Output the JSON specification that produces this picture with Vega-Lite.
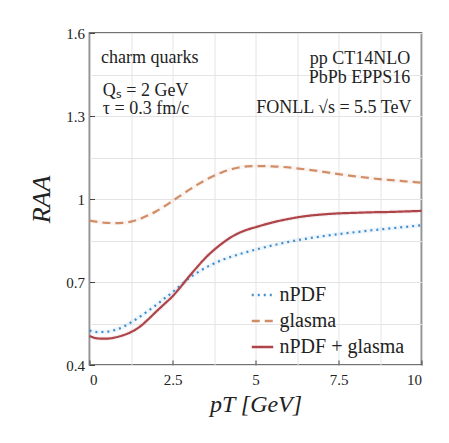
{
  "$schema": "https://vega.github.io/schema/vega-lite/v6.json",
  "width": 332,
  "height": 332,
  "autosize": "none",
  "padding": {"left": 89.5, "top": 33, "right": 27.5, "bottom": 78},
  "background": "white",
  "config": {
    "font": "Liberation Serif",
    "view": {"stroke": "#444444", "strokeWidth": 1.6},
    "axis": {"labelFont": "Liberation Serif", "titleFont": "Liberation Serif", "labelColor": "#222", "titleColor": "#222", "domain": false, "gridColor": "#e4e4e4", "gridWidth": 1, "tickColor": "#444"},
    "legend": {"labelFont": "Liberation Serif"},
    "text": {"font": "Liberation Serif"}
  },
  "datasets": {
    "curves": [
      {"pt": 0, "raa": 0.524, "series": "nPDF"},
      {"pt": 0.25, "raa": 0.519, "series": "nPDF"},
      {"pt": 0.5, "raa": 0.52, "series": "nPDF"},
      {"pt": 0.75, "raa": 0.526, "series": "nPDF"},
      {"pt": 1.0, "raa": 0.537, "series": "nPDF"},
      {"pt": 1.25, "raa": 0.554, "series": "nPDF"},
      {"pt": 1.5, "raa": 0.573, "series": "nPDF"},
      {"pt": 1.75, "raa": 0.594, "series": "nPDF"},
      {"pt": 2.0, "raa": 0.616, "series": "nPDF"},
      {"pt": 2.25, "raa": 0.64, "series": "nPDF"},
      {"pt": 2.5, "raa": 0.663, "series": "nPDF"},
      {"pt": 2.75, "raa": 0.689, "series": "nPDF"},
      {"pt": 3.0, "raa": 0.714, "series": "nPDF"},
      {"pt": 3.25, "raa": 0.734, "series": "nPDF"},
      {"pt": 3.5, "raa": 0.752, "series": "nPDF"},
      {"pt": 3.75, "raa": 0.767, "series": "nPDF"},
      {"pt": 4.0, "raa": 0.78, "series": "nPDF"},
      {"pt": 4.5, "raa": 0.8, "series": "nPDF"},
      {"pt": 5.0, "raa": 0.817, "series": "nPDF"},
      {"pt": 5.5, "raa": 0.832, "series": "nPDF"},
      {"pt": 6.0, "raa": 0.845, "series": "nPDF"},
      {"pt": 6.5, "raa": 0.856, "series": "nPDF"},
      {"pt": 7.0, "raa": 0.865, "series": "nPDF"},
      {"pt": 7.5, "raa": 0.873, "series": "nPDF"},
      {"pt": 8.0, "raa": 0.88, "series": "nPDF"},
      {"pt": 8.5, "raa": 0.887, "series": "nPDF"},
      {"pt": 9.0, "raa": 0.893, "series": "nPDF"},
      {"pt": 9.5, "raa": 0.899, "series": "nPDF"},
      {"pt": 10.0, "raa": 0.905, "series": "nPDF"},
      {"pt": 0, "raa": 0.922, "series": "glasma"},
      {"pt": 0.25, "raa": 0.917, "series": "glasma"},
      {"pt": 0.5, "raa": 0.914, "series": "glasma"},
      {"pt": 0.75, "raa": 0.913, "series": "glasma"},
      {"pt": 1.0, "raa": 0.914, "series": "glasma"},
      {"pt": 1.25, "raa": 0.918, "series": "glasma"},
      {"pt": 1.5, "raa": 0.927, "series": "glasma"},
      {"pt": 1.75, "raa": 0.94, "series": "glasma"},
      {"pt": 2.0, "raa": 0.955, "series": "glasma"},
      {"pt": 2.25, "raa": 0.973, "series": "glasma"},
      {"pt": 2.5, "raa": 0.993, "series": "glasma"},
      {"pt": 2.75, "raa": 1.013, "series": "glasma"},
      {"pt": 3.0, "raa": 1.033, "series": "glasma"},
      {"pt": 3.25, "raa": 1.052, "series": "glasma"},
      {"pt": 3.5, "raa": 1.069, "series": "glasma"},
      {"pt": 3.75, "raa": 1.084, "series": "glasma"},
      {"pt": 4.0, "raa": 1.097, "series": "glasma"},
      {"pt": 4.25, "raa": 1.107, "series": "glasma"},
      {"pt": 4.5, "raa": 1.114, "series": "glasma"},
      {"pt": 4.75, "raa": 1.118, "series": "glasma"},
      {"pt": 5.0, "raa": 1.119, "series": "glasma"},
      {"pt": 5.5, "raa": 1.118, "series": "glasma"},
      {"pt": 6.0, "raa": 1.114, "series": "glasma"},
      {"pt": 6.5, "raa": 1.107, "series": "glasma"},
      {"pt": 7.0, "raa": 1.099, "series": "glasma"},
      {"pt": 7.5, "raa": 1.09, "series": "glasma"},
      {"pt": 8.0, "raa": 1.082, "series": "glasma"},
      {"pt": 8.5, "raa": 1.075, "series": "glasma"},
      {"pt": 9.0, "raa": 1.069, "series": "glasma"},
      {"pt": 9.5, "raa": 1.064, "series": "glasma"},
      {"pt": 10.0, "raa": 1.059, "series": "glasma"},
      {"pt": 0, "raa": 0.505, "series": "nPDF + glasma"},
      {"pt": 0.25, "raa": 0.496, "series": "nPDF + glasma"},
      {"pt": 0.5, "raa": 0.495, "series": "nPDF + glasma"},
      {"pt": 0.75, "raa": 0.499, "series": "nPDF + glasma"},
      {"pt": 1.0, "raa": 0.507, "series": "nPDF + glasma"},
      {"pt": 1.25, "raa": 0.519, "series": "nPDF + glasma"},
      {"pt": 1.5, "raa": 0.537, "series": "nPDF + glasma"},
      {"pt": 1.75, "raa": 0.563, "series": "nPDF + glasma"},
      {"pt": 2.0, "raa": 0.592, "series": "nPDF + glasma"},
      {"pt": 2.25, "raa": 0.62, "series": "nPDF + glasma"},
      {"pt": 2.5, "raa": 0.648, "series": "nPDF + glasma"},
      {"pt": 2.75, "raa": 0.683, "series": "nPDF + glasma"},
      {"pt": 3.0, "raa": 0.72, "series": "nPDF + glasma"},
      {"pt": 3.25, "raa": 0.755, "series": "nPDF + glasma"},
      {"pt": 3.5, "raa": 0.788, "series": "nPDF + glasma"},
      {"pt": 3.75, "raa": 0.816, "series": "nPDF + glasma"},
      {"pt": 4.0, "raa": 0.84, "series": "nPDF + glasma"},
      {"pt": 4.25, "raa": 0.861, "series": "nPDF + glasma"},
      {"pt": 4.5, "raa": 0.877, "series": "nPDF + glasma"},
      {"pt": 4.75, "raa": 0.889, "series": "nPDF + glasma"},
      {"pt": 5.0, "raa": 0.898, "series": "nPDF + glasma"},
      {"pt": 5.5, "raa": 0.915, "series": "nPDF + glasma"},
      {"pt": 6.0, "raa": 0.928, "series": "nPDF + glasma"},
      {"pt": 6.5, "raa": 0.938, "series": "nPDF + glasma"},
      {"pt": 7.0, "raa": 0.944, "series": "nPDF + glasma"},
      {"pt": 7.5, "raa": 0.948, "series": "nPDF + glasma"},
      {"pt": 8.0, "raa": 0.95, "series": "nPDF + glasma"},
      {"pt": 8.5, "raa": 0.952, "series": "nPDF + glasma"},
      {"pt": 9.0, "raa": 0.953, "series": "nPDF + glasma"},
      {"pt": 9.5, "raa": 0.955, "series": "nPDF + glasma"},
      {"pt": 10.0, "raa": 0.957, "series": "nPDF + glasma"}
    ],
    "leftText": [
      {"pt": 0.347, "raa": 1.49, "label": "charm quarks"},
      {"pt": 0.4, "raa": 1.372, "label": "Qₛ = 2 GeV"},
      {"pt": 0.4, "raa": 1.306, "label": "τ = 0.3 fm/c"}
    ],
    "rightText": [
      {"pt": 9.66, "raa": 1.487, "label": "pp CT14NLO"},
      {"pt": 9.66, "raa": 1.42, "label": "PbPb EPPS16"},
      {"pt": 9.7, "raa": 1.31, "label": "FONLL √s = 5.5 TeV"}
    ],
    "unity": [{"raa": 1}]
  },
  "encoding": {
    "x": {
      "field": "pt", "type": "quantitative",
      "scale": {"domain": [0, 10], "nice": false, "zero": false},
      "axis": {
        "values": [0, 1.25, 2.5, 3.75, 5, 6.25, 7.5, 8.75, 10],
        "labelExpr": "datum.value % 2.5 === 0 ? format(datum.value, '~g') : ''",
        "tickOpacity": {"condition": {"test": "datum.value % 2.5 === 0", "value": 1}, "value": 0},
        "tickSize": -5, "labelPadding": 12, "labelFontSize": 15,
        "title": "pT [GeV]", "titleFontSize": 24, "titleFontStyle": "italic", "titleFontWeight": "normal",
        "titleBaseline": "alphabetic", "titleY": 46
      }
    },
    "y": {
      "field": "raa", "type": "quantitative",
      "scale": {"domain": [0.4, 1.6], "nice": false, "zero": false},
      "axis": {
        "values": [0.4, 0.55, 0.7, 0.85, 1, 1.15, 1.3, 1.45, 1.6],
        "labelExpr": "abs(round(datum.value * 10) % 3) === 1 ? format(datum.value, '~g') : ''",
        "tickOpacity": {"condition": {"test": "abs(round(datum.value * 10) % 3) === 1", "value": 1}, "value": 0},
        "tickSize": -5, "labelPadding": 10, "labelFontSize": 15,
        "title": "RAA", "titleFontSize": 26, "titleFontStyle": "italic", "titleFontWeight": "normal",
        "titleAngle": -90, "titleBaseline": "alphabetic", "titleX": -40, "titleY": 166
      }
    }
  },
  "layer": [
    {
      "data": {"name": "unity"},
      "mark": {"type": "rule", "color": "#8c8c8c", "strokeWidth": 1.6},
      "encoding": {"x": {"datum": 0}, "x2": {"datum": 10}}
    },
    {
      "data": {"name": "curves"},
      "mark": {"type": "line", "strokeWidth": 4.5, "opacity": 0.08, "interpolate": "monotone"},
      "encoding": {
        "color": {"field": "series", "type": "nominal"},
        "detail": {"field": "series"}
      }
    },
    {
      "data": {"name": "curves"},
      "mark": {"type": "line", "strokeWidth": 2.2, "interpolate": "monotone"},
      "encoding": {
        "color": {"field": "series", "type": "nominal", "title": null,
          "scale": {"domain": ["nPDF", "glasma", "nPDF + glasma"], "range": ["#3f8fcf", "#d08d66", "#ad4449"]},
          "legend": {"orient": "none", "legendX": 161, "legendY": 250, "symbolType": "stroke", "symbolSize": 462, "symbolStrokeWidth": 2.5, "labelFontSize": 20, "labelColor": "#222", "labelOffset": 5, "rowPadding": 4, "padding": 0, "labelLimit": 300,
            "encode": {"symbols": {"update": {"opacity": {"value": 1}, "strokeOpacity": {"value": 1}}}}}},
        "strokeDash": {"field": "series", "type": "nominal", "title": null,
          "scale": {"domain": ["nPDF", "glasma", "nPDF + glasma"], "range": [[2, 4], [8, 5], [1, 0]]},
          "legend": {"orient": "none", "legendX": 161, "legendY": 250, "symbolType": "stroke", "symbolSize": 462, "symbolStrokeWidth": 2.5, "labelFontSize": 20, "labelColor": "#222", "labelOffset": 5, "rowPadding": 4, "padding": 0, "labelLimit": 300,
            "encode": {"symbols": {"update": {"opacity": {"value": 1}, "strokeOpacity": {"value": 1}}}}}}
      }
    },
    {
      "data": {"name": "leftText"},
      "mark": {"type": "text", "align": "left", "baseline": "alphabetic", "fontSize": 18, "color": "#222"},
      "encoding": {"text": {"field": "label"}}
    },
    {
      "data": {"name": "rightText"},
      "mark": {"type": "text", "align": "right", "baseline": "alphabetic", "fontSize": 18, "color": "#222"},
      "encoding": {"text": {"field": "label"}}
    }
  ]
}
